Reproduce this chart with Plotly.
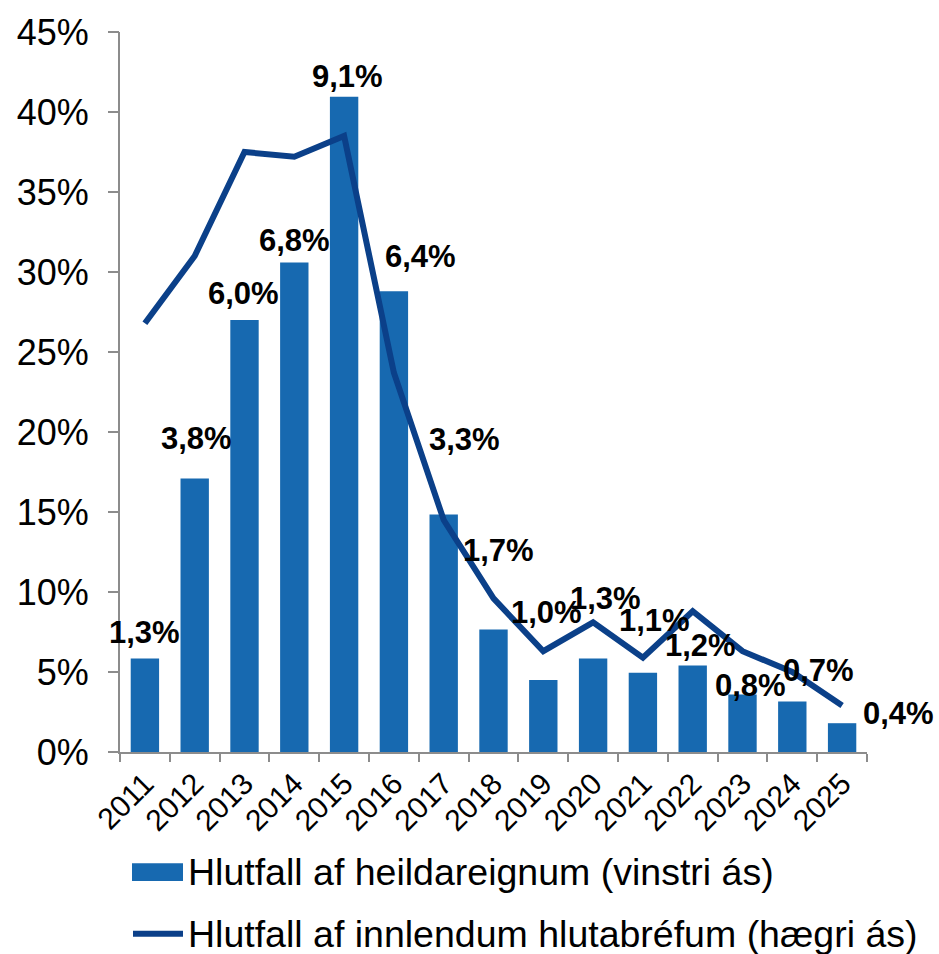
import plotly.graph_objects as go

# Years on the x axis
years = ["2011", "2012", "2013", "2014", "2015", "2016", "2017", "2018",
         "2019", "2020", "2021", "2022", "2023", "2024", "2025"]

# Share of total assets, % (bars)
share_total_assets = [1.3, 3.8, 6.0, 6.8, 9.1, 6.4, 3.3, 1.7,
                      1.0, 1.3, 1.1, 1.2, 0.8, 0.7, 0.4]

# Share of domestic equities, % (line)
share_domestic_equities = [26.8, 31.0, 37.5, 37.2, 38.5, 23.7, 14.5, 9.6,
                           6.3, 8.1, 5.9, 8.8, 6.3, 5.0, 2.9]

# Y-axis tick values for the visible percentage scale
pct_ticks = [0, 5, 10, 15, 20, 25, 30, 35, 40, 45]

# Hand-tuned nudges (px) for the bar value labels so they clear the line
label_dx = [0, 2, -1, 0, 3, 27, 21, 5, 3, 12, 12, 8, 8, 26, 56]
label_dy = [26, 40, 27, 22, 20, 35, 75, 79, 68, 60, 52, 20, 9, 31, 10]

FONT = "Liberation Sans, Arial, sans-serif"
BAR_COLOR = "#1769B0"
LINE_COLOR = "#0B4089"
AXIS_GRAY = "#8C8C8C"
W, H = 939, 954

fig = go.Figure()

fig.add_trace(go.Bar(
    x=years, y=share_total_assets,
    name="Hlutfall af heildareignum (vinstri ás)",
    marker=dict(color=BAR_COLOR, line=dict(width=0)),
    width=0.57, yaxis="y",
))

fig.add_trace(go.Scatter(
    x=years, y=share_domestic_equities,
    name="Hlutfall af innlendum hlutabréfum (hægri ás)",
    mode="lines", line=dict(color=LINE_COLOR, width=6),
    yaxis="y2",
))

# Value labels above the bars, Icelandic decimal comma
annotations = []
for i, (v, dx, dy) in enumerate(zip(share_total_assets, label_dx, label_dy)):
    annotations.append(dict(
        x=i, y=v, xref="x", yref="y",
        text=f"{v:.1f}%".replace(".", ","),
        showarrow=False, xshift=dx, yshift=dy,
        font=dict(family=FONT, size=31, color="black", weight="bold"),
    ))


# Legend below the plot, placed in page pixels converted to domain fractions
def dom_x(px):
    return (px - 120) / 747


def dom_y(py):
    return (752 - py) / 725


legend_rows = [
    ("Hlutfall af heildareignum (vinstri ás)", 873),
    ("Hlutfall af innlendum hlutabréfum (hægri ás)", 935),
]
for label, py in legend_rows:
    annotations.append(dict(
        x=dom_x(186), y=dom_y(py), xref="x domain", yref="y domain",
        text=label, showarrow=False, xanchor="left", yanchor="middle",
        font=dict(family=FONT, size=37.5, color="black"),
    ))

shapes = [
    dict(type="rect", xref="x domain", yref="y domain",
         x0=dom_x(132), x1=dom_x(183), y0=dom_y(882), y1=dom_y(864),
         fillcolor=BAR_COLOR, line=dict(width=0)),
    dict(type="line", xref="x domain", yref="y domain",
         x0=dom_x(133), x1=dom_x(183), y0=dom_y(935), y1=dom_y(935),
         line=dict(color=LINE_COLOR, width=6)),
]

fig.update_layout(
    width=W, height=H,
    margin=dict(l=120, r=72, t=27, b=202),
    paper_bgcolor="white", plot_bgcolor="white",
    font=dict(family=FONT, color="black"),
    showlegend=False,
    xaxis=dict(
        type="category", range=[-0.5, len(years) - 0.5], tickangle=-45,
        showline=True, linecolor=AXIS_GRAY, linewidth=2,
        ticks="outside", ticklen=8, tickcolor=AXIS_GRAY, tickwidth=2,
        tickson="boundaries",
        tickfont=dict(family=FONT, size=30, color="black"),
        showgrid=False, zeroline=False,
    ),
    yaxis=dict(
        range=[0, 10], showticklabels=False, ticks="",
        showline=True, linecolor=AXIS_GRAY, linewidth=2,
        showgrid=False, zeroline=False,
    ),
    yaxis2=dict(
        overlaying="y", side="left", range=[0, 45],
        tickvals=pct_ticks, ticktext=[f"{t}%" for t in pct_ticks],
        ticks="outside", ticklen=11, tickcolor=AXIS_GRAY, tickwidth=2,
        ticklabelstandoff=12,
        tickfont=dict(family=FONT, size=36, color="black"),
        showline=False, showgrid=False, zeroline=False,
    ),
    annotations=annotations,
    shapes=shapes,
)

fig.write_html("out.html")
